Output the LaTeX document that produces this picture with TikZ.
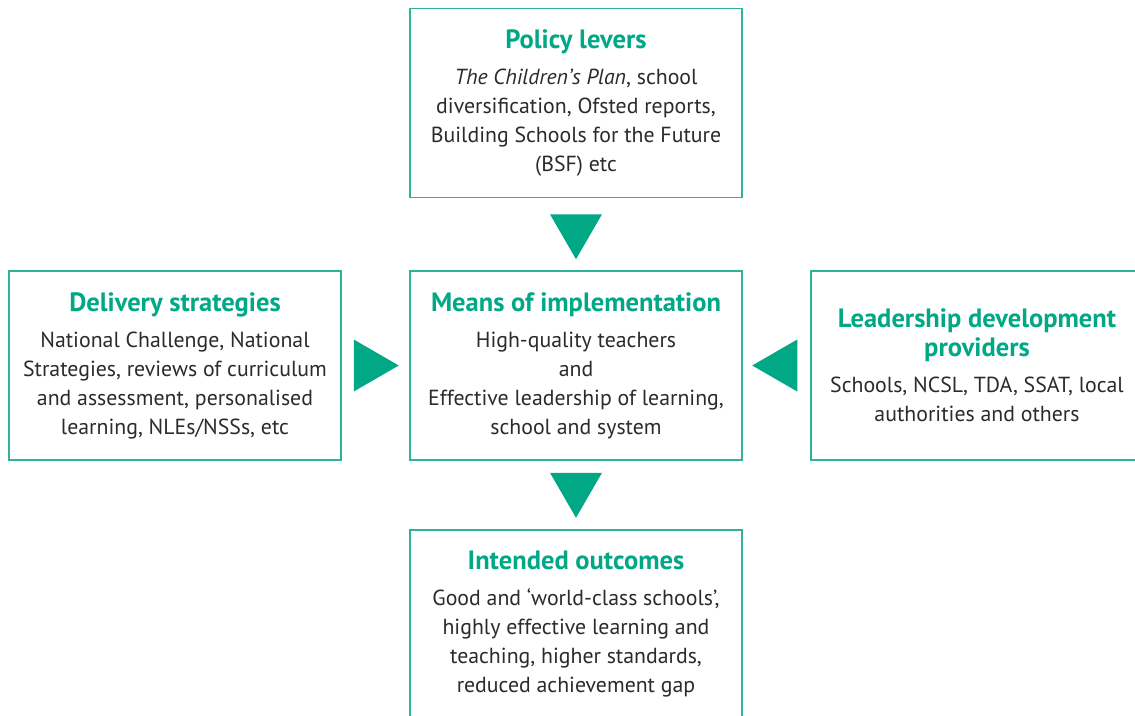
\documentclass[tikz,border=0pt]{standalone}
\usepackage{fontspec}
\setmainfont{PT Sans}
\usetikzlibrary{calc}
\definecolor{teal1}{HTML}{00A886}
\definecolor{tealbd}{HTML}{2FB396}
\definecolor{txt}{HTML}{2B2B2B}
\newcommand{\hd}[1]{{\fontsize{26.5}{29}\selectfont\bfseries\color{teal1}#1}}
\tikzset{
  box/.style={draw=tealbd, line width=1.5pt, minimum width=332pt, minimum height=189pt,
    inner sep=0pt, align=center, text=txt, font=\fontsize{21.8}{29}\selectfont},
  tri/.style={fill=teal1, draw=none}
}
\begin{document}
\begin{tikzpicture}[x=1pt,y=-1pt]
\clip (0,0) rectangle (1135,715);
\fill[white] (0,0) rectangle (1135,715);
\node[box] (top) at (576,103) {\hd{Policy levers}\\[7pt]
  \textit{The Children's Plan}, school\\ diversification, Ofsted reports,\\ Building Schools for the Future\\ (BSF) etc};
\node[box] (mid) at (576,365.5) {\hd{Means of implementation}\\[7pt]
  High-quality teachers\\ and\\ Effective leadership of learning,\\ school and system};
\node[box] (left) at (175,365.5) {\hd{Delivery strategies}\\[7pt]
  National Challenge, National\\ Strategies, reviews of curriculum\\ and assessment, personalised\\ learning, NLEs/NSSs, etc};
\node[box] (right) at (977,365.5) {\hd{Leadership development}\\ \hd{providers}\\[7pt]
  Schools, NCSL, TDA, SSAT, local\\ authorities and others};
\node[box] (bot) at (576,624.5) {\hd{Intended outcomes}\\[7pt]
  Good and `world-class schools',\\ highly effective learning and\\ teaching, higher standards,\\ reduced achievement gap};
% connectors (triangles)
\fill[tri] ($(top.south)+(-26,16)$) -- ($(top.south)+(26,16)$) -- ($(top.south)+(0,61)$) -- cycle;
\fill[tri] ($(mid.south)+(-26,12)$) -- ($(mid.south)+(26,12)$) -- ($(mid.south)+(0,57)$) -- cycle;
\fill[tri] ($(left.east)+(12,-26)$) -- ($(left.east)+(12,26)$) -- ($(left.east)+(57,0)$) -- cycle;
\fill[tri] ($(right.west)+(-13,-26)$) -- ($(right.west)+(-13,26)$) -- ($(right.west)+(-58,0)$) -- cycle;
\end{tikzpicture}
\end{document}
